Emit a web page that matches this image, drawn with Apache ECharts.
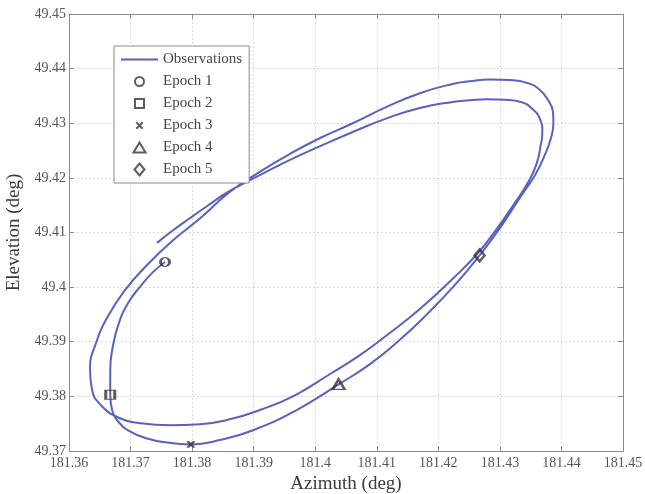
<!DOCTYPE html>
<html>
<head>
<meta charset="utf-8">
<script src="https://cdn.jsdelivr.net/npm/echarts@6/dist/echarts.min.js"></script>
<style>
  html, body { margin: 0; padding: 0; background: #ffffff; }
  #chart { width: 645px; height: 494px; }
</style>
</head>
<body>
<div id="chart"></div>
<script>
// Axis limits and grid spacing (degrees)
const azimuthLimits = [181.36, 181.45];
const elevationLimits = [49.37, 49.45];
const gridStep = 0.01;

// Observed track, in time order (azimuth / elevation, degrees)
const obsAzimuth = [
  181.3756, 181.3736, 181.3715, 181.3696, 181.3681, 181.3671, 181.3667, 181.3667,
  181.3670, 181.3680, 181.3699, 181.3727, 181.3756, 181.3798, 181.3845, 181.3899,
  181.3970, 181.4038, 181.4089, 181.4137, 181.4183, 181.4227, 181.4267, 181.4300,
  181.4332, 181.4357, 181.4373, 181.4383, 181.4387, 181.4386, 181.4379, 181.4365,
  181.4344, 181.4316, 181.4284, 181.4251, 181.4223, 181.4170, 181.4116, 181.4061,
  181.4008, 181.3959, 181.3910, 181.3861, 181.3813, 181.3764,
  181.37234, 181.36909, 181.36633, 181.36438, 181.36341, 181.36373, 181.36520, 181.36828,
  181.3715, 181.3764, 181.3813, 181.3861, 181.3910,
  181.3967, 181.4024, 181.4072, 181.4121, 181.4170, 181.4223, 181.4264, 181.4297,
  181.4326, 181.4348, 181.4360, 181.4366, 181.4369, 181.4365, 181.4353, 181.4334,
  181.4308, 181.4279, 181.4251, 181.4223, 181.4170, 181.4116, 181.4061, 181.4008,
  181.3959, 181.3910, 181.3861, 181.3824, 181.3796, 181.3769, 181.3743
];
const obsElevation = [
  49.4046, 49.4027, 49.4000, 49.3971, 49.3934, 49.3890, 49.3848, 49.3803,
  49.3775, 49.3754, 49.3736, 49.3723, 49.3716, 49.3712, 49.3720, 49.3738,
  49.3775, 49.3822, 49.3859, 49.3903, 49.3952, 49.4004, 49.4058, 49.4108,
  49.4163, 49.4205, 49.4242, 49.4273, 49.4302, 49.4322, 49.4341, 49.4361,
  49.4374, 49.4379, 49.4380, 49.4377, 49.4372, 49.4355, 49.4330, 49.4300,
  49.4273, 49.4244, 49.4211, 49.4174, 49.4126, 49.4081,
  49.40365, 49.39944, 49.39468, 49.38973, 49.38515, 49.38131, 49.37838, 49.37599,
  49.3751, 49.3747, 49.3749, 49.3758, 49.3775,
  49.3802, 49.3841, 49.3875, 49.3916, 49.3960, 49.4015, 49.4062, 49.4110,
  49.4157, 49.4196, 49.4227, 49.4258, 49.4284, 49.4308, 49.4326, 49.4339,
  49.4343, 49.4344, 49.4342, 49.4339, 49.4328, 49.4309, 49.4284, 49.4258,
  49.4233, 49.4205, 49.4176, 49.4148, 49.4126, 49.4104, 49.4081
];

// Epoch positions
const epochNames = ['Epoch 1', 'Epoch 2', 'Epoch 3', 'Epoch 4', 'Epoch 5'];
const epochAzimuth = [181.3756, 181.3667, 181.3798, 181.4038, 181.4267];
const epochElevation = [49.4046, 49.3803, 49.3712, 49.3822, 49.4058];

// Marker outlines, drawn centred in a 37 x 13 box so that the legend
// icon and the plotted marker share the same shape at 1:1 scale.
const markerBox = 'M0 0M37 13';
const epochMarkers = [
  markerBox + 'M14 6.5A4.5 4.5 0 1 0 23 6.5A4.5 4.5 0 1 0 14 6.5Z',
  markerBox + 'M14 2L23 2L23 11L14 11Z',
  markerBox + 'M15.3 3.3L21.7 9.7M21.7 3.3L15.3 9.7',
  markerBox + 'M12.5 11.5L18.5 1.5L24.5 11.5Z',
  markerBox + 'M18.5 0.5L23.5 6.5L18.5 12.5L13.5 6.5Z'
];
const lineIcon = markerBox + 'M0 5.5L37 5.5L37 7.5L0 7.5Z';

const serif = 'Liberation Serif';
const frameColor = '#8c8c8c';
const trackColor = '#5763bd';

function frameAxis(range, extra) {
  return Object.assign({
    type: 'value',
    min: range[0],
    max: range[1],
    interval: gridStep,
    axisLine: { show: true, onZero: false, lineStyle: { color: frameColor, width: 1 } },
    axisTick: { show: true, inside: true, length: 5, lineStyle: { color: frameColor } },
    splitLine: { show: false },
    axisLabel: { show: false }
  }, extra);
}

const chart = echarts.init(document.getElementById('chart'), null, { renderer: 'canvas' });

chart.setOption({
  animation: false,
  backgroundColor: '#ffffff',
  grid: { left: 69, right: 22, top: 14, bottom: 43, outerBoundsMode: 'none' },
  legend: {
    orient: 'vertical',
    left: 114,
    top: 46,
    padding: [6, 7, 6, 6],
    itemWidth: 37,
    itemHeight: 13,
    itemGap: 7,
    backgroundColor: '#ffffff',
    borderColor: frameColor,
    borderWidth: 1,
    textStyle: { fontFamily: serif, fontSize: 15, color: '#444' },
    data: [{ name: 'Observations', icon: 'path://' + lineIcon, itemStyle: { borderWidth: 0 } }]
      .concat(epochNames)
  },
  xAxis: [
    frameAxis(azimuthLimits, {
      position: 'bottom',
      name: 'Azimuth (deg)',
      nameLocation: 'middle',
      nameGap: 19,
      nameTextStyle: { fontFamily: serif, fontSize: 19, color: '#3a3a3a' },
      splitLine: { show: true, lineStyle: { color: '#cdcdcd', type: [1.5, 2.5], width: 1 } },
      axisLabel: { show: true, margin: 5, fontFamily: serif, fontSize: 14, color: '#555' }
    }),
    frameAxis(azimuthLimits, { position: 'top' })
  ],
  yAxis: [
    frameAxis(elevationLimits, {
      position: 'left',
      name: 'Elevation (deg)',
      nameLocation: 'middle',
      nameGap: 36,
      nameTextStyle: { fontFamily: serif, fontSize: 19, color: '#3a3a3a' },
      splitLine: { show: true, lineStyle: { color: '#cdcdcd', type: [1.5, 2.5], width: 1 } },
      axisLabel: { show: true, margin: 3, fontFamily: serif, fontSize: 14, color: '#555' }
    }),
    frameAxis(elevationLimits, { position: 'right' })
  ],
  series: [
    {
      name: 'Observations',
      type: 'line',
      data: obsAzimuth.map((az, i) => [az, obsElevation[i]]),
      smooth: 0.5,
      symbol: 'none',
      lineStyle: { color: trackColor, width: 2 },
      itemStyle: { color: trackColor },
      z: 2
    }
  ].concat(epochNames.map((name, i) => ({
    name: name,
    type: 'scatter',
    data: [[epochAzimuth[i], epochElevation[i]]],
    symbol: 'path://' + epochMarkers[i],
    symbolSize: [37, 13],
    itemStyle: { color: 'rgba(0,0,0,0)', borderColor: '#333', borderWidth: 1.8 },
    z: 3
  })))
});
</script>
</body>
</html>
